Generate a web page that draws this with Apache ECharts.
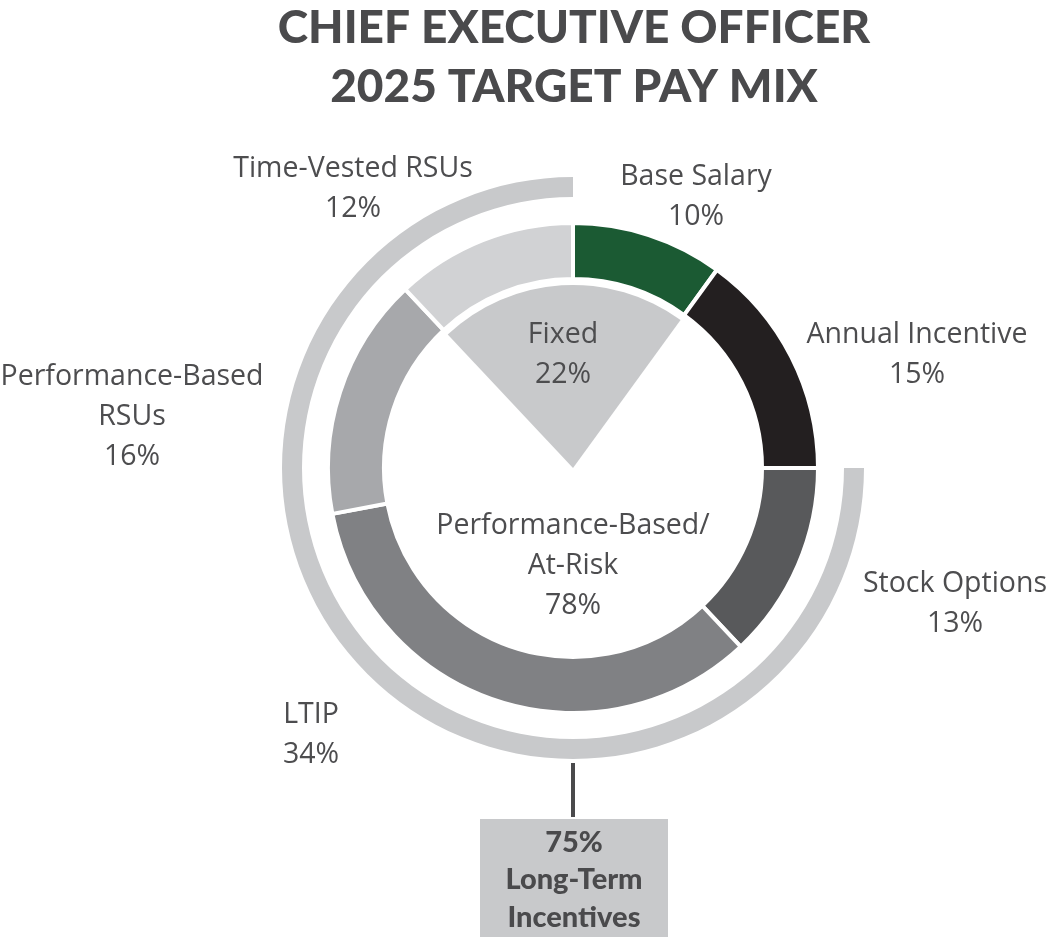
<!DOCTYPE html>
<html>
<head>
<meta charset="utf-8">
<script src="https://cdn.jsdelivr.net/npm/echarts@6/dist/echarts.min.js"></script>
<style>
  html, body { margin: 0; padding: 0; background: #ffffff; }
  #chart { width: 1048px; height: 943px; }
</style>
</head>
<body>
<div id="chart"></div>
<script>
// ---- data ----
const categories = ['Base Salary', 'Annual Incentive', 'Stock Options', 'LTIP', 'Performance-Based RSUs', 'Time-Vested RSUs'];
const categoryLabels = ['Base Salary', 'Annual Incentive', 'Stock Options', 'LTIP', 'Performance-Based\nRSUs', 'Time-Vested RSUs'];
const values = [10, 15, 13, 34, 16, 12];
const mixGroups = ['Fixed', 'Performance-Based/\nAt-Risk'];
const mixValues = [22, 78];
const termGroups = ['Short-Term', 'Long-Term\nIncentives'];
const termValues = [25, 75];
const titleLines = ['CHIEF EXECUTIVE OFFICER', '2025 TARGET PAY MIX'];

// ---- styles / layout ----
const colors = ['#1b5a33', '#231f20', '#58595b', '#808184', '#a7a8ab', '#d1d2d4'];
const textColor = '#4d4d4f';
const lightGray = '#c8c9cb';
const center = [573, 468];
const labelFont = {
  fontFamily: '"Open Sans"', fontSize: 28.5, fontWeight: 'normal', lineHeight: 40,
  color: textColor, overflow: 'none', width: 400
};
const outerLabelPos = [[696, 197], [917, 355], [955, 604], [311, 735], [132, 417], [353, 189]];
const innerLabelPos = [[563, 355], [573, 566]];

const chart = echarts.init(document.getElementById('chart'), null, { renderer: 'canvas' });

const fixedStart = 90 + values[5] * 3.6; // wedge begins where Time-Vested RSUs begin

chart.setOption({
  backgroundColor: '#ffffff',
  animation: false,
  series: [
    {
      type: 'pie',
      name: 'term',
      center: center,
      radius: [271, 291],
      startAngle: 90,
      silent: true,
      label: { show: false },
      labelLine: { show: false },
      data: termGroups.map((n, i) => ({
        name: n, value: termValues[i],
        itemStyle: { color: i === 0 ? 'rgba(0,0,0,0)' : lightGray }
      }))
    },
    {
      type: 'pie',
      name: 'mix',
      center: center,
      radius: [0, 183],
      startAngle: fixedStart,
      silent: true,
      labelLine: { show: false },
      label: {
        show: true,
        position: 'inside',
        formatter: p => p.name + '\n' + p.value + '%',
        ...labelFont
      },
      labelLayout: p => ({ x: innerLabelPos[p.dataIndex][0], y: innerLabelPos[p.dataIndex][1], align: 'center', verticalAlign: 'middle' }),
      data: mixGroups.map((n, i) => ({
        name: n, value: mixValues[i],
        itemStyle: { color: i === 0 ? lightGray : 'rgba(0,0,0,0)' }
      }))
    },
    {
      type: 'pie',
      name: 'components',
      center: center,
      radius: [189, 245],
      startAngle: 90,
      silent: true,
      itemStyle: { borderColor: '#ffffff', borderWidth: 4 },
      labelLine: { show: false },
      label: {
        show: true,
        position: 'outside',
        alignTo: 'none',
        formatter: p => categoryLabels[p.dataIndex] + '\n' + p.value + '%',
        ...labelFont
      },
      labelLayout: p => ({ x: outerLabelPos[p.dataIndex][0], y: outerLabelPos[p.dataIndex][1], align: 'center', verticalAlign: 'middle', moveOverlap: false }),
      data: categories.map((n, i) => ({ name: n, value: values[i], itemStyle: { color: colors[i] } }))
    }
  ],
  graphic: [
    {
      type: 'text',
      x: 574, y: 58,
      style: {
        text: titleLines.join('\n'),
        fontFamily: 'Lato', fontSize: 46, fontWeight: 900,
        lineHeight: 59, fill: '#4a4a4c',
        textAlign: 'center', textVerticalAlign: 'middle'
      }
    },
    {
      type: 'line',
      shape: { x1: 573, y1: 763, x2: 573, y2: 817 },
      style: { stroke: '#4a4a4c', lineWidth: 4 }
    },
    {
      type: 'rect',
      shape: { x: 480, y: 819, width: 188, height: 118 },
      style: { fill: lightGray }
    },
    {
      type: 'text',
      x: 574, y: 880,
      style: {
        text: termValues[1] + '%\n' + termGroups[1],
        fontFamily: 'Lato', fontSize: 29, fontWeight: 900,
        lineHeight: 37.5, fill: '#4a4a4c',
        textAlign: 'center', textVerticalAlign: 'middle'
      }
    }
  ]
});
</script>
</body>
</html>
